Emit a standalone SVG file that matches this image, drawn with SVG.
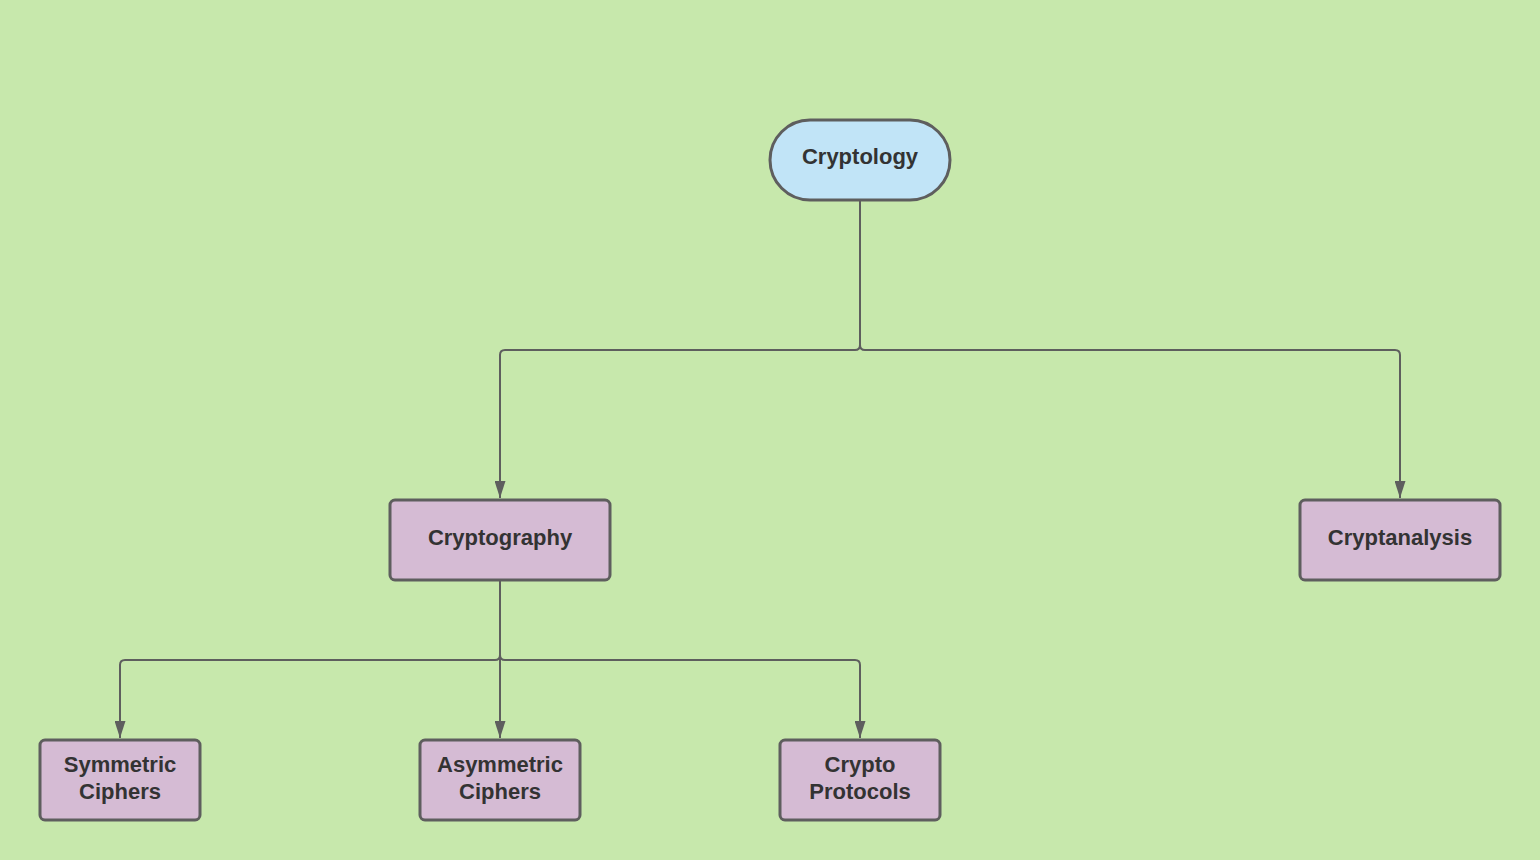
<svg xmlns="http://www.w3.org/2000/svg" width="1540" height="860" viewBox="0 0 1540 860">
<style>
.node rect{stroke:#5e5e5e;stroke-width:3}
.blue{fill:#c1e4f7}
.purple{fill:#d5bbd4}
.lbl{font-family:"Liberation Sans",Arial,sans-serif;font-weight:bold;font-size:22px;fill:#333333;text-anchor:middle}
.edge{fill:none;stroke:#5e5e5e;stroke-width:2}
</style>
<defs>
<marker id="arr" viewBox="0 0 17 11" refX="17" refY="5.5" markerWidth="17" markerHeight="11" markerUnits="userSpaceOnUse" orient="auto">
<path d="M0,0 L17,5.5 L0,11 Z" fill="#5e5e5e"/>
</marker>
</defs>
<rect width="1540" height="860" fill="#c7e8ac"/>
<g id="connectors">
<path class="edge" d="M860,200 V345 Q860,350 855,350 H505 Q500,350 500,355 V498" marker-end="url(#arr)"/>
<path class="edge" d="M860,345 Q860,350 865,350 H1395 Q1400,350 1400,355 V498" marker-end="url(#arr)"/>
<path class="edge" d="M500,580 V655 Q500,660 495,660 H125 Q120,660 120,665 V738" marker-end="url(#arr)"/>
<path class="edge" d="M500,655 V738" marker-end="url(#arr)"/>
<path class="edge" d="M500,655 Q500,660 505,660 H855 Q860,660 860,665 V738" marker-end="url(#arr)"/>
</g>
<g id="cryptology" class="node"><rect class="blue" x="770" y="120" width="180" height="80" rx="40"/><text class="lbl" x="860" y="164">Cryptology</text></g>
<g id="cryptography" class="node"><rect class="purple" x="390" y="500" width="220" height="80" rx="5"/><text class="lbl" x="500" y="545">Cryptography</text></g>
<g id="cryptanalysis" class="node"><rect class="purple" x="1300" y="500" width="200" height="80" rx="5"/><text class="lbl" x="1400" y="545">Cryptanalysis</text></g>
<g id="symmetric" class="node"><rect class="purple" x="40" y="740" width="160" height="80" rx="5"/><text class="lbl" x="120" y="772">Symmetric</text><text class="lbl" x="120" y="799">Ciphers</text></g>
<g id="asymmetric" class="node"><rect class="purple" x="420" y="740" width="160" height="80" rx="5"/><text class="lbl" x="500" y="772">Asymmetric</text><text class="lbl" x="500" y="799">Ciphers</text></g>
<g id="protocols" class="node"><rect class="purple" x="780" y="740" width="160" height="80" rx="5"/><text class="lbl" x="860" y="772">Crypto</text><text class="lbl" x="860" y="799">Protocols</text></g>
</svg>
